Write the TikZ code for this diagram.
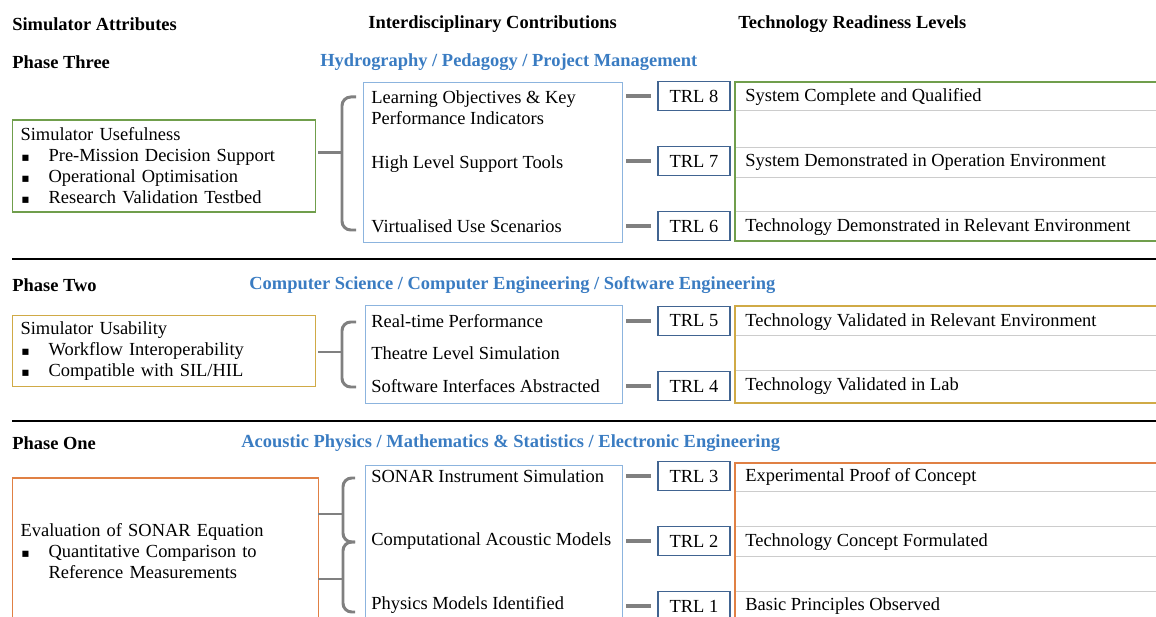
\documentclass[tikz,border=0pt]{standalone}
\usepackage{fontspec}
\setmainfont{Liberation Serif}
\newfontfamily\symfont{DejaVu Sans}
\definecolor{usegreen}{RGB}{112,158,76}
\definecolor{usegold}{RGB}{208,170,70}
\definecolor{useorange}{RGB}{224,128,68}
\definecolor{contribblue}{RGB}{140,180,222}
\definecolor{trlblue}{RGB}{65,100,145}
\definecolor{fieldblue}{RGB}{58,124,194}
\definecolor{linkgray}{RGB}{128,128,128}
\newcommand{\sqb}{\makebox[0.56cm][l]{\hspace{0.5pt}{\symfont\scriptsize ▪}}}

\begin{document}
\begin{tikzpicture}[x=0.02cm,y=-0.02cm,
      font=\fontsize{10.5}{12}\selectfont,
      head/.style={font=\fontsize{10.5}{12}\selectfont\bfseries,anchor=west,inner sep=0pt},
      field/.style={head,text=fieldblue},
      attrbox/.style={draw,line width=0.7pt,anchor=west,align=left,inner xsep=0.16cm,text width=5.74cm},
      contrib/.style={draw=contribblue,line width=0.7pt,anchor=north west,inner sep=0pt},
      item/.style={anchor=west,inner sep=0pt,align=left},
      trl/.style={draw=trlblue,line width=0.7pt,minimum width=1.44cm,minimum height=0.58cm,inner sep=0pt},
      level/.style={anchor=west,inner sep=0pt},
      link/.style={draw=linkgray,line width=2pt,shorten <=0.06cm,shorten >=0.12cm},
      bracket/.style={draw=linkgray,line width=1.7pt,rounded corners=5pt},
      rowline/.style={draw=black!20,line width=0.5pt},
      phaserule/.style={draw=black,line width=1.7pt}]

  \useasboundingbox (0,0) rectangle (1156,617);
  \clip (0,0) rectangle (1156,617);

  \node[head] (hattr) at (12,24) {Simulator Attributes};
  \node[head] (hcontrib) at (368,24) {Interdisciplinary Contributions};
  \node[head] (htrl) at (738,24) {Technology Readiness Levels};

  % phase three
  \node[head] (p3) at (12,62) {Phase Three};
  \node[field] (f3) at (320,62) {Hydrography / Pedagogy / Project Management};
  \node[attrbox,draw=usegreen,minimum height=1.84cm] (use3) at (12,166)
    {Simulator Usefulness\\ \sqb Pre-Mission Decision Support\\ \sqb Operational Optimisation\\ \sqb Research Validation Testbed};
  \draw[bracket] (356,97) -| (342,230) -- (356,230);
  \draw[linkgray,line width=1.7pt] (318,153) -- (342,153);
  \node[contrib,minimum width=5.18cm,minimum height=3.2cm] (mid3) at (363,82) {};
  \node[item] (c8) at (371,107.5) {Learning Objectives \& Key\\Performance Indicators};
  \node[item] (c7) at (371,164) {High Level Support Tools};
  \node[item] (c6) at (371,226) {Virtualised Use Scenarios};
  \node[trl] (trl8) at (694,96) {TRL 8};
  \node[trl] (trl7) at (694,161) {TRL 7};
  \node[trl] (trl6) at (694,226) {TRL 6};
  \foreach \t in {trl8,trl7,trl6}
    \draw[link] (mid3.east |- \t.west) -- (\t.west);
  \foreach \y in {110,147,177,211}
    \draw[rowline] (736,\y) -- (1170,\y);
  \draw[usegreen,line width=0.7pt] (735,82) rectangle (1175,241);
  \node[level] (l8) at (745,97) {System Complete and Qualified};
  \node[level] (l7) at (745,162) {System Demonstrated in Operation Environment};
  \node[level] (l6) at (745,227) {Technology Demonstrated in Relevant Environment};

  \draw[phaserule] (12,259) -- (1156,259);

  % phase two
  \node[head] (p2) at (12,285) {Phase Two};
  \node[field] (f2) at (249,285) {Computer Science / Computer Engineering / Software Engineering};
  \node[attrbox,draw=usegold,minimum height=1.4cm] (use2) at (12,351)
    {Simulator Usability\\ \sqb Workflow Interoperability\\ \sqb Compatible with SIL/HIL};
  \draw[bracket] (356,322) -| (342,387) -- (356,387);
  \draw[linkgray,line width=1.7pt] (318,352) -- (342,352);
  \node[contrib,minimum width=5.14cm,minimum height=1.96cm] (mid2) at (365,305) {};
  \node[item] (c5) at (371,321) {Real-time Performance};
  \node[item] (cx) at (371,353) {Theatre Level Simulation};
  \node[item] (c4) at (371,386) {Software Interfaces Abstracted};
  \node[trl] (trl5) at (694,321) {TRL 5};
  \node[trl] (trl4) at (694,386) {TRL 4};
  \foreach \t in {trl5,trl4}
    \draw[link] (mid2.east |- \t.west) -- (\t.west);
  \foreach \y in {335,370}
    \draw[rowline] (736,\y) -- (1170,\y);
  \draw[usegold,line width=0.7pt] (735,306) rectangle (1175,403);
  \node[level] (l5) at (745,322) {Technology Validated in Relevant Environment};
  \node[level] (l4) at (745,386) {Technology Validated in Lab};

  \draw[phaserule] (12,421) -- (1156,421);

  % phase one
  \node[head] (p1) at (12,443) {Phase One};
  \node[field] (f1) at (241,443) {Acoustic Physics / Mathematics \& Statistics / Electronic Engineering};
  \node[attrbox,draw=useorange,minimum height=2.94cm,text width=5.8cm] (use1) at (12,551.5)
    {Evaluation of SONAR Equation\\ \sqb Quantitative Comparison to\\ \hspace*{0.56cm}Reference Measurements};
  \draw[bracket] (355,478) -| (343,542) -- (355,542);
  \draw[bracket] (355,542) -| (343,612) -- (355,612);
  \draw[linkgray,line width=1.7pt] (318,514) -- (343,514);
  \draw[linkgray,line width=1.7pt] (318,579) -- (343,579);
  \node[contrib,minimum width=5.14cm,minimum height=3.6cm] (mid1) at (365,465) {};
  \node[item] (c3) at (371,476) {SONAR Instrument Simulation};
  \node[item] (c2) at (371,541) {Computational Acoustic Models};
  \node[item] (c1) at (371,605) {Physics Models Identified};
  \node[trl] (trl3) at (694,476) {TRL 3};
  \node[trl] (trl2) at (694,541) {TRL 2};
  \node[trl] (trl1) at (694,606) {TRL 1};
  \foreach \t in {trl3,trl2,trl1}
    \draw[link] (mid1.east |- \t.west) -- (\t.west);
  \foreach \y in {491,526,556,591}
    \draw[rowline] (736,\y) -- (1170,\y);
  \draw[useorange,line width=0.7pt] (735,463) rectangle (1175,660);
  \node[level] (l3) at (745,477) {Experimental Proof of Concept};
  \node[level] (l2) at (745,542) {Technology Concept Formulated};
  \node[level] (l1) at (745,606) {Basic Principles Observed};
\end{tikzpicture}
\end{document}
